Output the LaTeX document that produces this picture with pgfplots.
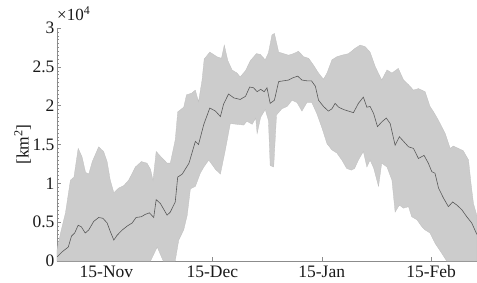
\documentclass[border=0pt]{standalone}
\usepackage{fontspec}
\setmainfont{Liberation Serif}
\usepackage{pgfplots}
\pgfplotsset{compat=1.18}
\begin{document}
\begin{tikzpicture}
\path[use as bounding box] (-57bp,-22bp) rectangle (420bp,261bp);
\begin{axis}[
  scale only axis, width=420bp, height=233bp,
  xmin=0, xmax=119, ymin=0, ymax=30000,
  axis x line*=bottom, axis y line*=left,
  axis line style={draw=black!45, line width=0.5pt},
  tick style={draw=black!45, line width=0.4pt},
  major tick length=4bp, minor tick length=2bp,
  tick align=inside,
  xtick={14,44,75,106}, xticklabels={15-Nov,15-Dec,15-Jan,15-Feb},
  minor x tick num=9,
  ytick={0,5000,10000,15000,20000,25000,30000},
  yticklabels={0,0.5,1,1.5,2,2.5,3},
  scaled y ticks=false,
  minor y tick num=9,
  every tick label/.append style={font=\fontsize{17.5bp}{20bp}\selectfont, text=black!90},
  yticklabel style={xshift=1bp},
  xticklabel style={yshift=-1bp},
  ylabel={[km\textsuperscript{2}]},
  ylabel style={at={(axis description cs:-0.082,0.5)}, anchor=center, font=\fontsize{17.5bp}{20bp}\selectfont, text=black!90},
  extra description/.code={\node[anchor=base west, inner sep=0pt, font=\fontsize{17bp}{20bp}\selectfont, text=black!90] at ([yshift=7bp]axis description cs:0,1) {×10\textsuperscript{4}};},
  clip=true,
]
\addplot[fill=black!20, draw=black!25, line width=0.3pt] coordinates {
(0,1400) (1,3600) (2.4,6200) (3.8,10400) (4.8,10800) (6,14500) (7.1,13400) (8.1,11400) (9,11200) (10,12800) (11.8,14700) (13.2,14100) (14.2,12800) (15.1,10400) (16.1,8800) (17.5,9400) (18.9,9700) (20.3,10400) (22.2,12100) (23.9,12800) (25.5,12600) (26.5,11800) (27.2,10400) (28.1,14100) (29.3,13500) (31.2,12600) (32.1,12600) (33.5,15600) (34.2,19200) (35.9,19800) (36.7,21400) (38.1,21600) (39.2,22000) (40.1,20500) (41.1,23300) (41.7,26000) (43.3,26900) (45.3,26300) (46.6,26100) (47.4,27800) (48.4,25800) (49.6,24600) (51,24200) (51.9,23700) (53.4,24500) (54.8,25800) (56.5,26700) (57.6,26600) (59,25900) (59.9,26800) (60.9,29100) (61.6,29300) (62.8,26900) (64.2,26700) (65.6,26500) (67,26700) (68.4,27000) (69.9,26300) (71.3,26100) (72.7,25200) (74.1,24200) (75.5,23400) (76.5,24200) (77.9,25900) (79.3,26300) (80.7,26500) (82.6,26700) (84.5,27400) (85.9,27800) (87.3,27600) (88.7,26900) (90.2,25000) (92,23300) (93.5,24600) (94.9,24200) (96.7,24800) (98.2,23300) (99.6,22700) (101,22000) (102.4,22200) (104.3,21800) (105.7,19900) (106.7,19200) (108.1,18100) (110,16400) (111.4,14500) (112.3,14800) (113.7,14500) (115.1,14200) (116.6,13000) (117.3,10000) (118,7400) (119,5800)
(119,0) (110.4,0) (109,1000) (107.1,2300) (105.7,3600) (104.3,4000) (103.4,4400) (102,5300) (100.5,5700) (99.6,7000) (98.2,6800) (97,7200) (95.8,6300) (94.9,10400) (93.5,12100) (92,12600) (91.1,9600) (89.7,12000) (88.7,13000) (87.8,12100) (86.8,14100) (85.4,13000) (84.3,11900) (83.4,11700) (82.1,11900) (80.7,13000) (79.3,13900) (77.9,14300) (76.5,15100) (75.1,17100) (73.6,19000) (72.2,20400) (70.8,20400) (69.4,19300) (68,20400) (66.6,20700) (65.2,19900) (63.7,19600) (62.2,18800) (61.4,12100) (60.4,12300) (59.9,18100) (59,19500) (57.7,18500) (56.7,16400) (56.3,18400) (55.3,17600) (53.8,18000) (52.9,17500) (51,17600) (49.1,17700) (47.7,14300) (46.3,11200) (44.9,11800) (43,13000) (41.6,12100) (40.6,11300) (39.2,9600) (37.8,9300) (36.9,5900) (35.9,4000) (34.5,2700) (33.5,0) (30.1,0) (28.4,1800) (26.5,0) (0,0)
} -- cycle;
\addplot[draw=black!65, line width=0.6pt] coordinates {
(0.06,550) (1.5,1200) (3.2,1800) (4.1,3200) (5,3600) (6,4600) (6.9,4400) (8,3600) (9,4000) (10.4,5100) (11.8,5600) (13,5500) (14.2,4900) (15.1,3800) (16.1,2700) (17,3300) (18.5,4000) (19.9,4500) (21.3,4900) (22.4,5600) (23.9,5700) (25,6000) (26.2,6200) (27.4,5600) (28.1,7900) (29.3,7400) (31.2,5900) (32.1,6300) (33.5,7600) (34.2,10800) (35.5,11200) (37.4,12600) (39.2,15400) (40.1,15000) (41.6,17600) (43.3,19700) (44.9,19300) (46.3,18600) (47.2,20200) (48.6,21500) (50.1,21000) (51.9,20800) (53.4,21200) (54.6,22400) (55.7,22300) (56.7,21800) (57.7,22100) (58.7,21800) (59.5,22300) (60.4,20300) (61.6,20700) (62.8,23100) (64.2,23200) (65.6,23300) (66.9,23600) (68.2,23800) (69.4,23300) (70.8,23200) (72.1,23200) (73.2,22500) (74.1,20700) (75.5,19900) (76.9,19300) (77.9,19600) (78.8,20300) (79.8,19800) (81.2,19500) (82.6,19300) (84,19100) (85.4,20300) (86.8,21100) (87.8,19800) (88.7,19900) (89.7,19000) (90.8,17300) (92,17900) (93.3,18400) (94.4,17700) (95.8,14900) (97,16000) (98.2,15400) (99.6,14700) (101,14500) (102.4,13200) (104,13600) (105.2,12600) (106.2,11500) (107.1,11300) (108.1,9400) (109.5,8100) (110.9,7000) (112.1,7600) (113.3,7200) (114.7,6600) (116.1,5700) (117.5,4900) (119,3400)
};
\end{axis}
\end{tikzpicture}
\end{document}
